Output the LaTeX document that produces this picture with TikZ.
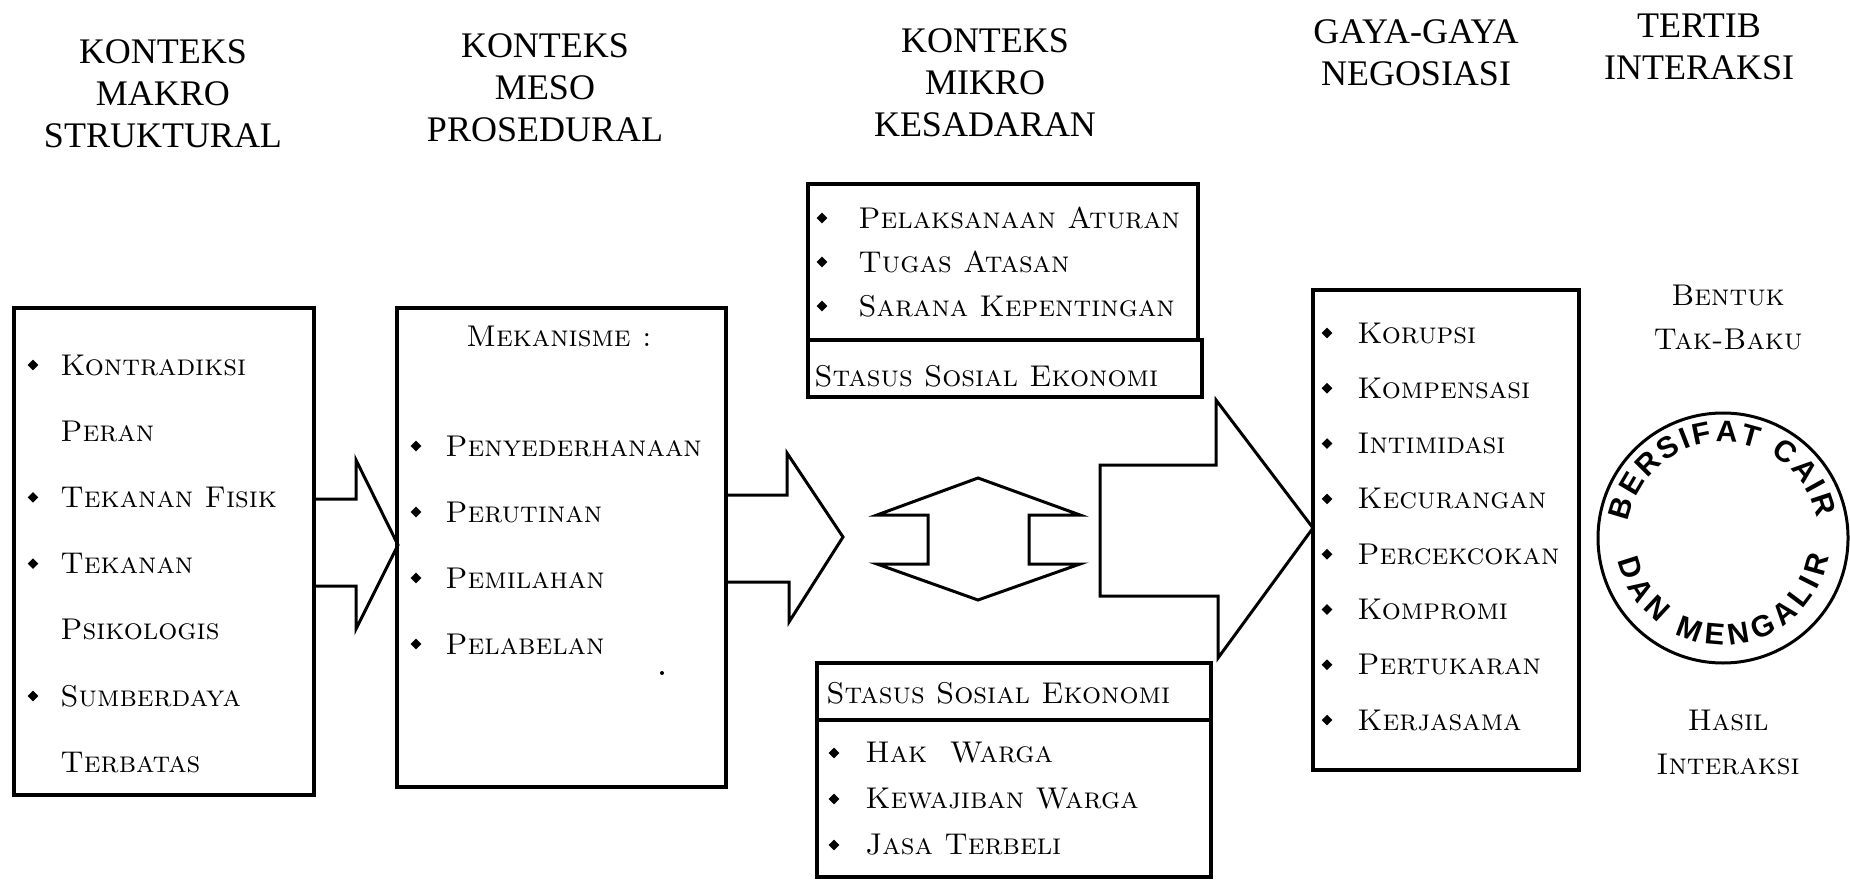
\documentclass[tikz,border=0pt]{standalone}
\usepackage{fontspec}
\newfontfamily\headfont{Liberation Serif}
\newfontfamily\ringfont{Liberation Sans}
\usetikzlibrary{shapes.geometric, decorations.text}

\tikzset{
  box/.style = {line width = 2pt},
  blockarrow/.style = {line width = 1.5pt, line join = miter},
  head/.style = {align = center, font = \headfont\fontsize{18}{21}\selectfont},
  item/.style = {anchor = west, inner sep = 0pt, font = \fontsize{15}{18}\selectfont\scshape},
  side/.style = {align = center, inner sep = 0pt, font = \fontsize{15}{22}\selectfont\scshape},
  bul/.style = {diamond, fill, inner sep = 0pt, minimum size = 5.5pt},
  ringtext/.style = {decorate, decoration = {text along path, text align = {fit to path},
      text = {|\ringfont\bfseries\fontsize{15}{15}\selectfont|#1}}},
}

\begin{document}
\begin{tikzpicture}[x = 0.5pt, y = 0.5pt]
  \useasboundingbox (0,0) rectangle (1850,879);

  % column heads
  \node [head] (makrohead) at (163,785) {KONTEKS\\MAKRO\\STRUKTURAL};
  \node [head] (mesohead) at (545,791) {KONTEKS\\MESO\\PROSEDURAL};
  \node [head] (mikrohead) at (985,796) {KONTEKS\\MIKRO\\KESADARAN};
  \node [head] (gayahead) at (1416,826) {GAYA-GAYA\\NEGOSIASI};
  \node [head] (tertibhead) at (1699,832) {TERTIB\\INTERAKSI};

  % makro
  \draw [box] (14,84) rectangle (314,571);
  \foreach \t [count = \i] in {Kontradiksi, Peran, Tekanan Fisik, Tekanan, Psikologis, Sumberdaya, Terbatas}
    \node [item] (makro\i) at (60, {514 - 66.2*(\i-1)}) {\t};
  \foreach \i in {1,3,4,6}
    \node [bul] (bmakro\i) at ([xshift = -13.5pt] makro\i.west) {};

  \draw [blockarrow] (314,380) -- (356,380) -- (356,419) -- (398,334) -- (356,250) -- (356,293) -- (314,293);

  % meso
  \draw [box] (397,92) rectangle (726,571);
  \node [item, anchor = center] (mekanisme) at (559,543) {Mekanisme :};
  \foreach \t [count = \i] in {Penyederhanaan, Perutinan, Pemilahan, Pelabelan}
    \node [item] (meso\i) at (445, {433 - 66*(\i-1)}) {\t};
  \foreach \i in {1,...,4}
    \node [bul] (bmeso\i) at ([xshift = -14.5pt] meso\i.west) {};
  \fill (662,206) circle [radius = 2];

  \draw [blockarrow] (726,384) -- (787,384) -- (787,426) -- (843,342) -- (789,257) -- (789,297) -- (726,297);

  % mikro
  \draw [box] (808,539) rectangle (1198,695);
  \draw [box] (808,482) rectangle (1202,539);
  \foreach \t [count = \i] in {Pelaksanaan Aturan, Tugas Atasan, Sarana Kepentingan}
    \node [item] (atas\i) at (858, {661 - 44*(\i-1)}) {\t};
  \foreach \i in {1,...,3}
    \node [bul] (batas\i) at ([xshift = -18pt] atas\i.west) {};
  \node [item] (sseatas) at (814,503) {Stasus Sosial Ekonomi};

  \draw [blockarrow] (877,364) -- (978,401) -- (1080,364) -- (1029,364) -- (1029,315) -- (1080,315)
    -- (978,279) -- (877,315) -- (928,315) -- (928,364) -- cycle;

  \draw [box] (817,2) rectangle (1211,216);
  \draw [box] (817,159) -- (1211,159);
  \node [item] (ssebawah) at (826,186) {Stasus Sosial Ekonomi};
  \foreach \t [count = \i] in {Hak\ \ Warga, Kewajiban Warga, Jasa Terbeli}
    \node [item] (bawah\i) at (865, {126 - 46*(\i-1)}) {\t};
  \foreach \i in {1,...,3}
    \node [bul] (bbawah\i) at ([xshift = -15.5pt] bawah\i.west) {};

  \draw [blockarrow] (1100,414) -- (1216,414) -- (1216,479) -- (1313,351) -- (1218,221) -- (1218,283)
    -- (1100,283) -- cycle;

  % gaya negosiasi
  \draw [box] (1313,109) rectangle (1579,589);
  \foreach \t [count = \i] in {Korupsi, Kompensasi, Intimidasi, Kecurangan, Percekcokan, Kompromi, Pertukaran, Kerjasama}
    \node [item] (gaya\i) at (1357, {546 - 55.3*(\i-1)}) {\t};
  \foreach \i in {1,...,8}
    \node [bul] (bgaya\i) at ([xshift = -15pt] gaya\i.west) {};

  % tertib interaksi
  \node [side] (bentuk) at (1728,562) {Bentuk\\Tak-Baku};
  \node [side] (hasil) at (1728,137) {Hasil\\Interaksi};
  \coordinate (ring) at (1723,341);
  \draw [line width = 1.5pt] (ring) circle [radius = 125];
  \path [ringtext = {BERSIFAT CAIR}] (ring) ++(170:96) arc [start angle = 170, end angle = 12, radius = 96];
  \path [ringtext = {DAN MENGALIR}] (ring) ++(192:107) arc [start angle = 192, end angle = 350, radius = 107];
\end{tikzpicture}
\end{document}
